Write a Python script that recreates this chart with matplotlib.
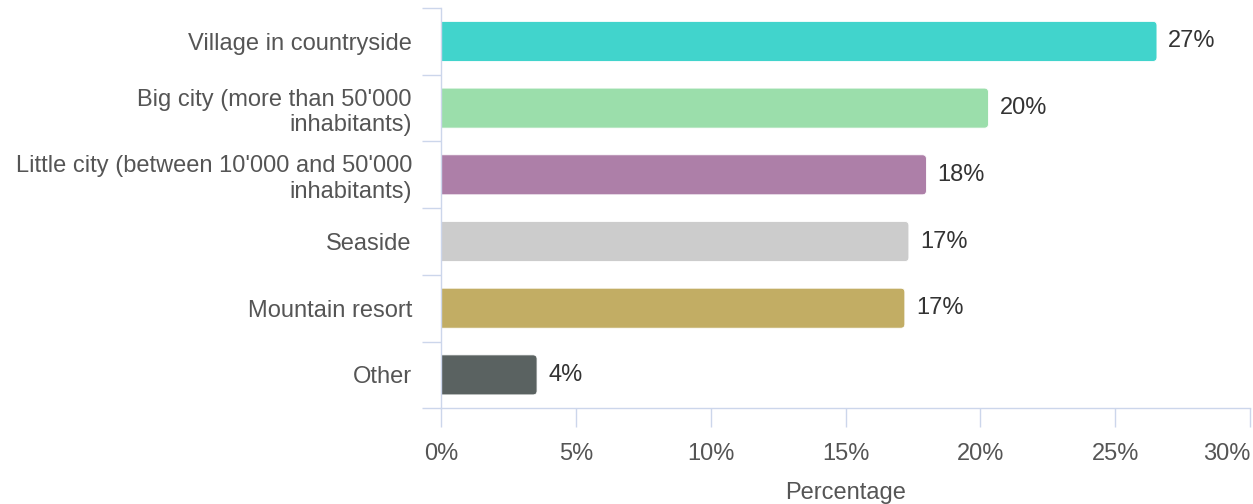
import matplotlib
matplotlib.use("Agg")
import matplotlib.pyplot as plt
from matplotlib.patches import FancyBboxPatch
from matplotlib.ticker import FixedLocator, FuncFormatter

plt.rcParams["font.family"] = ["Liberation Sans", "DejaVu Sans"]

categories = [
    "Village in countryside",
    "Big city (more than 50'000\ninhabitants)",
    "Little city (between 10'000 and 50'000\ninhabitants)",
    "Seaside",
    "Mountain resort",
    "Other",
]
percentages = [26.55, 20.3, 18.0, 17.35, 17.2, 3.56]
colors = ["#41D4CC", "#9BDEAB", "#AD7FA8", "#CCCCCC", "#C2AD64", "#5A6261"]
x_ticks = [0, 5, 10, 15, 20, 25, 30]

axis_color = "#CCD6EB"
label_color = "#555555"
fs = 17

fig = plt.figure(figsize=(12.53, 5.04), dpi=100)
ax = fig.add_axes([0.352, 0.19, 0.6456, 0.794])

y = list(range(len(categories)))
bars = ax.barh(y, percentages, height=0.6, color=colors)
ax.set_xlim(0, 30)
ax.set_ylim(len(categories) - 0.5, -0.5)

# replace plain rectangles with right-rounded ones
fig.canvas.draw()
px_per_x = ax.transData.transform((1, 0))[0] - ax.transData.transform((0, 0))[0]
px_per_y = abs(ax.transData.transform((0, 1))[1] - ax.transData.transform((0, 0))[1])
r_px = 4.0
r_x = r_px / px_per_x
aspect = (r_px / px_per_y) / r_x
for rect, val in zip(bars, percentages):
    x0, y0 = rect.get_x(), rect.get_y()
    w, h = rect.get_width(), rect.get_height()
    rect.set_visible(False)
    patch = FancyBboxPatch(
        (x0 - 2 * r_x, y0), w + 2 * r_x, h,
        boxstyle=f"round,pad=0,rounding_size={r_x}",
        mutation_aspect=aspect,
        facecolor=rect.get_facecolor(), edgecolor="white", linewidth=0.6,
    )
    ax.add_patch(patch)
    ax.annotate(f"{round(val):.0f}%", (val, y0 + h / 2), xytext=(8, 0),
                textcoords="offset points", va="center", ha="left",
                fontsize=fs, color="#333333")

# axes styling
for side in ("top", "right"):
    ax.spines[side].set_visible(False)
for side in ("left", "bottom"):
    ax.spines[side].set_color(axis_color)
    ax.spines[side].set_linewidth(1.0)

ax.xaxis.set_major_locator(FixedLocator(x_ticks))
ax.xaxis.set_major_formatter(FuncFormatter(lambda v, p: f"{v:.0f}%"))
ax.tick_params(axis="x", direction="out", length=14, width=1.0, color=axis_color,
               labelsize=fs, labelcolor=label_color, pad=11)

ax.yaxis.set_major_locator(FixedLocator([i - 0.5 for i in range(len(categories) + 1)]))
ax.yaxis.set_major_formatter(FuncFormatter(lambda v, p: ""))
ax.yaxis.set_minor_locator(FixedLocator(y))
ax.set_yticks(y, categories, minor=True)
ax.tick_params(axis="y", which="major", direction="out", length=14, width=1.0, color=axis_color)
ax.tick_params(axis="y", which="minor", length=0, labelsize=fs, labelcolor=label_color, pad=21)
for lbl in ax.get_yticklabels(minor=True):
    lbl.set_linespacing(1.2)

# keep the last x tick label inside the figure
fig.canvas.draw()
ax.get_xticklabels()[-1].set_horizontalalignment("right")

ax.set_xlabel("Percentage", fontsize=fs, color=label_color, labelpad=12)

fig.savefig("out.png", dpi=100, facecolor="white")
